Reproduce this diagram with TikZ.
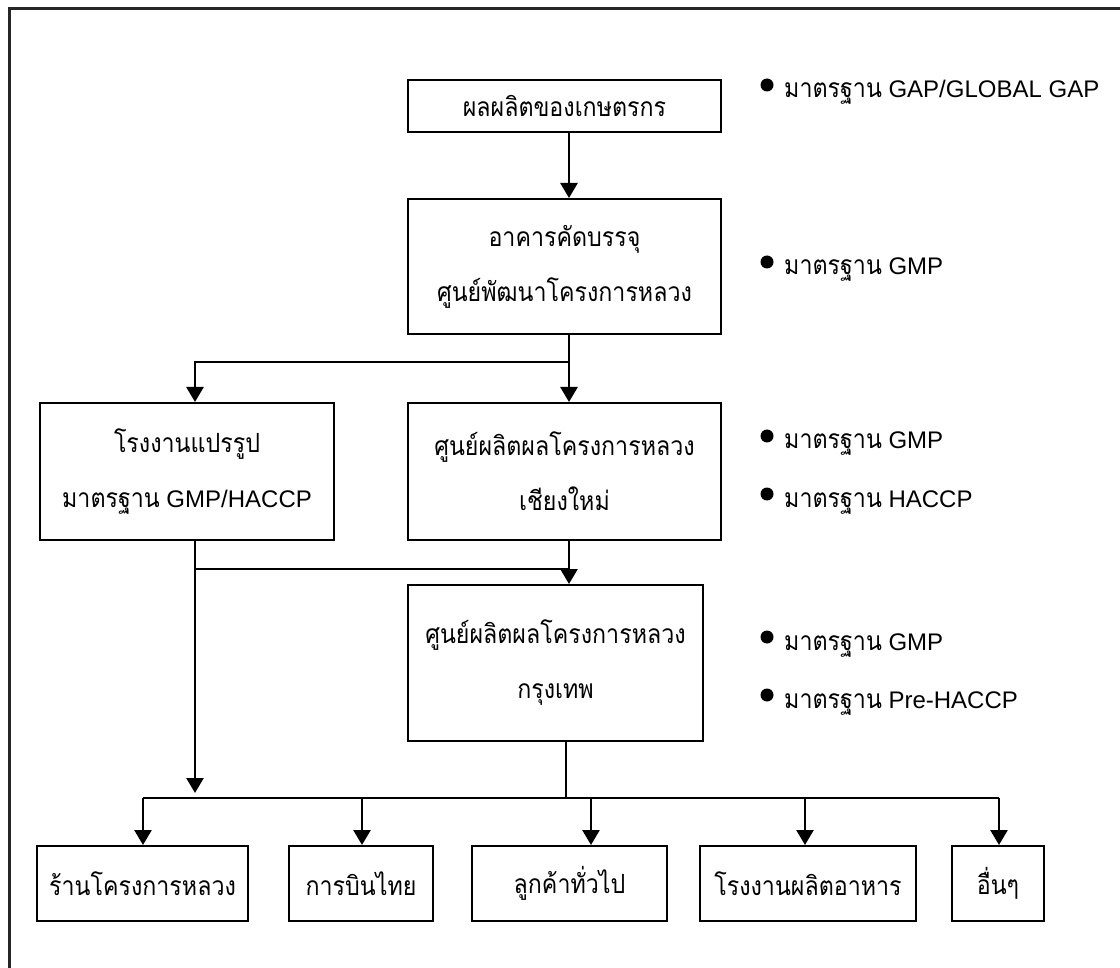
\documentclass[tikz,border=0pt]{standalone}
\usepackage{fontspec}
\setmainfont{Liberation Sans}
\newfontfamily\thai[Script=Thai,Scale=1.1,FakeStretch=0.88]{Loma}
\usetikzlibrary{arrows.meta}
\begin{document}
\begin{tikzpicture}[x=1pt,y=-1pt,
  box/.style={draw, line width=2pt, align=center, inner sep=0pt, font=\fontsize{24}{55}\selectfont},
  conn/.style={line width=2.6pt},
  arr/.style={conn, -{Triangle[width=17pt,length=15pt]}},
  lbl/.style={anchor=base west, inner sep=0pt, font=\fontsize{24}{28}\selectfont},
  dot/.style={circle, fill, inner sep=0pt, minimum size=13pt}]
\useasboundingbox (0,0) rectangle (1120,968);
\draw[line width=3pt, black!85] (9,968) -- (9,9) -- (1120,9);

% boxes
\node[box, minimum width=313pt, minimum height=52pt] (b1) at (564.5,106) {\thai ผลผลิตของเกษตรกร};
\node[box, minimum width=313pt, minimum height=135pt] (b2) at (564.5,266.5) {\thai อาคารคัดบรรจุ\\\thai ศูนย์พัฒนาโครงการหลวง};
\node[box, minimum width=294pt, minimum height=137pt] (bl) at (187,471.5) {\thai โรงงานแปรรูป\\{\thai มาตรฐาน} GMP/HACCP};
\node[box, minimum width=313pt, minimum height=137pt] (b3) at (564.5,471.5) {\thai ศูนย์ผลิตผลโครงการหลวง\\\thai เชียงใหม่};
\node[box, minimum width=295pt, minimum height=156pt] (b4) at (555.5,663) {\thai ศูนย์ผลิตผลโครงการหลวง\\\thai กรุงเทพ};
\node[box, minimum width=211pt, minimum height=75pt] (ba) at (142.5,883.5) {\thai ร้านโครงการหลวง};
\node[box, minimum width=144pt, minimum height=75pt] (bb) at (361,883.5) {\thai การบินไทย};
\node[box, minimum width=195pt, minimum height=75pt] (bc) at (569.5,883.5) {\thai ลูกค้าทั่วไป};
\node[box, minimum width=216pt, minimum height=75pt] (bd) at (808,883.5) {\thai โรงงานผลิตอาหาร};
\node[box, minimum width=92pt, minimum height=75pt] (be) at (998,883.5) {\thai อื่นๆ};

% right labels
\node[dot] (d1) at (767,85) {};
\node[lbl] (l1) at (784,98) {{\thai มาตรฐาน} GAP/GLOBAL GAP};
\node[dot] (d2) at (767,262) {};
\node[lbl] (l2) at (784,275) {{\thai มาตรฐาน} GMP};
\node[dot] (d3) at (767,436) {};
\node[lbl] (l3) at (784,449) {{\thai มาตรฐาน} GMP};
\node[dot] (d4) at (767,494) {};
\node[lbl] (l4) at (784,507) {{\thai มาตรฐาน} HACCP};
\node[dot] (d5) at (767,637) {};
\node[lbl] (l5) at (784,650) {{\thai มาตรฐาน} GMP};
\node[dot] (d6) at (767,695) {};
\node[lbl] (l6) at (784,708) {{\thai มาตรฐาน} Pre-HACCP};

% connector coordinates
\coordinate (xa) at (569,0);
\coordinate (xl) at (195,0);
\coordinate (xb) at (566,0);
\coordinate (j1) at (569,362);
\coordinate (j2) at (195,569);
\coordinate (t1) at (195,793);
\coordinate (bus) at (0,798);
\coordinate (x1) at (143,0);
\coordinate (x2) at (362,0);
\coordinate (x3) at (591,0);
\coordinate (x4) at (805,0);
\coordinate (x5) at (999,0);

\draw[arr] (b1.south -| xa) -- (b2.north -| xa);
\draw[arr] (b2.south -| xa) -- (b3.north -| xa);
\draw[arr] (j1) -| (bl.north -| xl);
\draw[arr] (bl.south -| xl) -- (t1);
\draw[conn] (j2) -- (j2 -| xa);
\draw[arr] (b3.south -| xa) -- (b4.north -| xa);
\draw[conn] (b4.south -| xb) -- (bus -| xb);
\draw[conn] (bus -| x1) -- (bus -| x5);
\draw[arr] (bus -| x1) -- (ba.north -| x1);
\draw[arr] (bus -| x2) -- (bb.north -| x2);
\draw[arr] (bus -| x3) -- (bc.north -| x3);
\draw[arr] (bus -| x4) -- (bd.north -| x4);
\draw[arr] (bus -| x5) -- (be.north -| x5);
\end{tikzpicture}
\end{document}
